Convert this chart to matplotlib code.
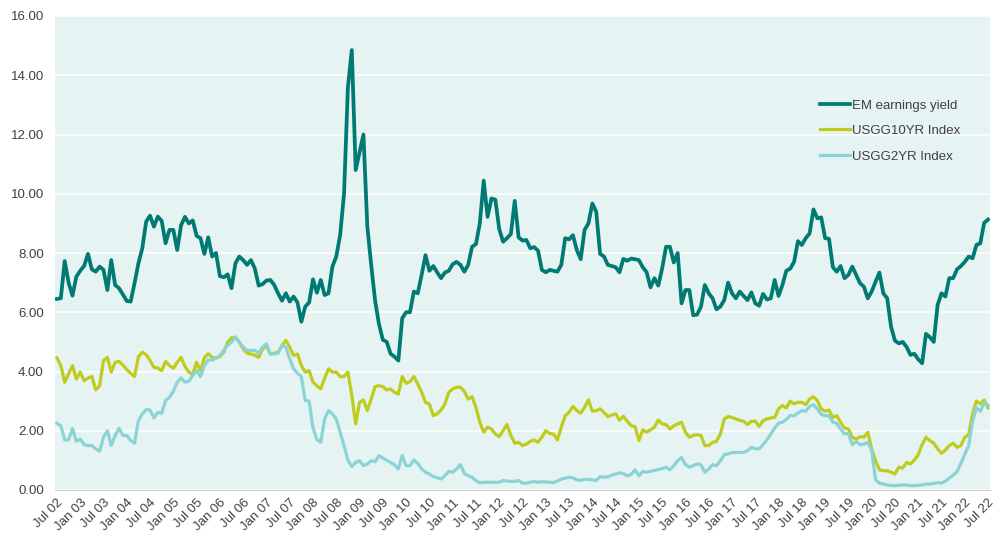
import matplotlib as mpl
mpl.use('Agg')
import matplotlib.pyplot as plt
import numpy as np
import pandas as pd

# monthly data, Jul 2002 - Jul 2022
dates = pd.date_range('2002-07-01', '2022-07-01', freq='MS')

em_yield = [
    6.45, 6.47, 7.73, 7.00, 6.56, 7.20, 7.40, 7.56, 7.97, 7.45, 7.37, 7.54,
    7.43, 6.75, 7.76, 6.92, 6.81, 6.60, 6.38, 6.36, 6.98, 7.65, 8.16, 9.06,
    9.26, 8.89, 9.23, 9.08, 8.33, 8.78, 8.78, 8.10, 8.94, 9.22, 9.00, 9.10,
    8.58, 8.50, 7.97, 8.53, 7.88, 8.00, 7.22, 7.18, 7.28, 6.81, 7.65, 7.88,
    7.76, 7.60, 7.76, 7.48, 6.90, 6.95, 7.07, 7.09, 6.92, 6.64, 6.39, 6.64,
    6.36, 6.53, 6.33, 5.68, 6.19, 6.33, 7.11, 6.66, 7.09, 6.58, 6.64, 7.54,
    7.88, 8.61, 10.00, 13.60, 14.85, 10.80, 11.40, 12.00, 8.90, 7.60, 6.40, 5.60,
    5.07, 5.00, 4.60, 4.50, 4.37, 5.80, 6.00, 6.00, 6.70, 6.64, 7.26, 7.93,
    7.40, 7.56, 7.35, 7.15, 7.34, 7.40, 7.62, 7.70, 7.60, 7.37, 7.60, 8.21,
    8.30, 9.00, 10.44, 9.22, 9.84, 9.80, 8.81, 8.38, 8.50, 8.64, 9.76, 8.53,
    8.42, 8.44, 8.16, 8.20, 8.08, 7.43, 7.35, 7.43, 7.40, 7.37, 7.60, 8.50,
    8.46, 8.60, 8.10, 7.79, 8.78, 9.00, 9.67, 9.39, 7.97, 7.88, 7.60, 7.56,
    7.52, 7.35, 7.80, 7.74, 7.81, 7.79, 7.76, 7.52, 7.35, 6.84, 7.15, 6.90,
    7.48, 8.21, 8.21, 7.68, 8.00, 6.30, 6.75, 6.75, 5.90, 5.92, 6.19, 6.92,
    6.64, 6.47, 6.10, 6.19, 6.41, 7.00, 6.64, 6.47, 6.70, 6.55, 6.41, 6.67,
    6.30, 6.22, 6.62, 6.43, 6.47, 7.09, 6.55, 6.92, 7.40, 7.47, 7.70, 8.40,
    8.27, 8.50, 8.66, 9.47, 9.17, 9.20, 8.50, 8.48, 7.52, 7.37, 7.56, 7.15,
    7.26, 7.54, 7.26, 6.98, 6.86, 6.47, 6.70, 7.03, 7.34, 6.64, 6.47, 5.51,
    5.04, 4.95, 5.00, 4.83, 4.56, 4.60, 4.41, 4.28, 5.27, 5.16, 5.00, 6.25,
    6.64, 6.53, 7.15, 7.15, 7.45, 7.56, 7.70, 7.88, 7.82, 8.27, 8.33, 9.02,
    9.13,
]

usgg10 = [
    4.46, 4.20, 3.64, 3.92, 4.20, 3.75, 3.98, 3.69, 3.78, 3.83, 3.38, 3.52,
    4.37, 4.48, 3.98, 4.31, 4.34, 4.22, 4.07, 3.94, 3.83, 4.50, 4.65, 4.57,
    4.37, 4.14, 4.12, 4.03, 4.34, 4.20, 4.11, 4.31, 4.48, 4.17, 3.98, 3.90,
    4.31, 4.03, 4.46, 4.60, 4.48, 4.45, 4.50, 4.65, 4.99, 5.14, 5.16, 4.99,
    4.76, 4.62, 4.59, 4.55, 4.48, 4.76, 4.88, 4.59, 4.62, 4.65, 4.88, 5.05,
    4.82, 4.54, 4.59, 4.20, 3.98, 4.03, 3.64, 3.52, 3.41, 3.78, 4.09, 3.98,
    3.98, 3.83, 3.83, 3.98, 3.19, 2.23, 2.96, 3.04, 2.68, 3.07, 3.49, 3.52,
    3.49, 3.38, 3.41, 3.30, 3.24, 3.83, 3.60, 3.66, 3.83, 3.58, 3.30, 2.96,
    2.90, 2.51, 2.57, 2.70, 2.90, 3.30, 3.41, 3.47, 3.47, 3.33, 3.07, 3.15,
    2.79, 2.29, 1.95, 2.12, 2.06, 1.89, 1.80, 2.00, 2.21, 1.84, 1.58, 1.61,
    1.50, 1.55, 1.64, 1.69, 1.61, 1.78, 2.00, 1.91, 1.89, 1.69, 2.12, 2.51,
    2.62, 2.82, 2.68, 2.59, 2.79, 3.04, 2.66, 2.68, 2.74, 2.62, 2.48, 2.53,
    2.57, 2.36, 2.49, 2.32, 2.17, 2.14, 1.67, 2.03, 1.95, 2.03, 2.12, 2.36,
    2.23, 2.21, 2.06, 2.17, 2.23, 2.29, 1.95, 1.78, 1.84, 1.87, 1.84, 1.50,
    1.50, 1.61, 1.64, 1.89, 2.40, 2.48, 2.45, 2.40, 2.35, 2.32, 2.21, 2.32,
    2.32, 2.14, 2.34, 2.40, 2.43, 2.45, 2.74, 2.85, 2.77, 3.00, 2.91, 2.96,
    2.96, 2.88, 3.07, 3.15, 3.02, 2.74, 2.66, 2.70, 2.45, 2.51, 2.29, 2.09,
    2.06, 1.78, 1.72, 1.80, 1.78, 1.95, 1.39, 0.99, 0.68, 0.65, 0.65, 0.60,
    0.54, 0.77, 0.74, 0.93, 0.88, 1.01, 1.19, 1.53, 1.78, 1.67, 1.58, 1.39,
    1.24, 1.35, 1.50, 1.58, 1.44, 1.50, 1.78, 1.87, 2.57, 3.00, 2.91, 3.04,
    2.77,
]

usgg2 = [
    2.25, 2.17, 1.69, 1.69, 2.08, 1.64, 1.72, 1.53, 1.50, 1.50, 1.39, 1.31,
    1.78, 2.00, 1.50, 1.84, 2.08, 1.84, 1.84, 1.67, 1.58, 2.34, 2.57, 2.71,
    2.70, 2.43, 2.62, 2.59, 3.02, 3.13, 3.33, 3.64, 3.78, 3.64, 3.67, 3.86,
    4.03, 3.83, 4.20, 4.39, 4.39, 4.45, 4.54, 4.71, 4.88, 4.99, 5.16, 4.99,
    4.82, 4.71, 4.71, 4.71, 4.62, 4.82, 4.93, 4.59, 4.59, 4.62, 4.88, 4.82,
    4.43, 4.09, 3.94, 3.83, 3.02, 3.00, 2.10, 1.70, 1.61, 2.40, 2.68, 2.57,
    2.40, 1.95, 1.50, 1.00, 0.79, 0.93, 0.99, 0.82, 0.88, 0.99, 0.95, 1.16,
    1.08, 1.00, 0.93, 0.85, 0.71, 1.16, 0.82, 0.82, 1.01, 0.90, 0.71, 0.60,
    0.54, 0.45, 0.42, 0.37, 0.48, 0.63, 0.60, 0.71, 0.86, 0.56, 0.48, 0.43,
    0.32, 0.24, 0.26, 0.26, 0.26, 0.26, 0.26, 0.32, 0.30, 0.29, 0.29, 0.32,
    0.23, 0.23, 0.26, 0.29, 0.26, 0.28, 0.27, 0.26, 0.25, 0.30, 0.37, 0.40,
    0.43, 0.41, 0.35, 0.32, 0.36, 0.36, 0.34, 0.32, 0.45, 0.43, 0.44, 0.50,
    0.54, 0.58, 0.55, 0.48, 0.52, 0.68, 0.48, 0.63, 0.60, 0.63, 0.66, 0.69,
    0.72, 0.77, 0.68, 0.82, 0.99, 1.10, 0.86, 0.77, 0.82, 0.88, 0.85, 0.60,
    0.71, 0.86, 0.82, 0.99, 1.19, 1.22, 1.26, 1.27, 1.27, 1.27, 1.33, 1.44,
    1.39, 1.39, 1.53, 1.69, 1.89, 2.09, 2.25, 2.29, 2.38, 2.51, 2.51, 2.60,
    2.68, 2.66, 2.82, 2.88, 2.74, 2.55, 2.51, 2.51, 2.29, 2.25, 2.06, 1.89,
    1.91, 1.53, 1.64, 1.53, 1.55, 1.61, 1.33, 0.35, 0.23, 0.20, 0.17, 0.15,
    0.15, 0.16, 0.17, 0.17, 0.15, 0.15, 0.16, 0.17, 0.20, 0.20, 0.22, 0.25,
    0.23, 0.30, 0.40, 0.50, 0.62, 0.90, 1.20, 1.50, 2.30, 2.79, 2.65, 2.95,
    2.85,
]

x = np.arange(len(dates))
tick_pos = x[::6]
tick_labels = [d.strftime('%b %y') for d in dates[::6]]

plt.rcParams['font.family'] = ['Liberation Sans', 'DejaVu Sans']

fig = plt.figure(figsize=(9.98, 5.36), dpi=100)
ax = fig.add_axes([55/998, 1 - 490/536, 935/998, 474/536])
ax.set_facecolor('#E5F3F2')

ax.plot(x, em_yield, color='#007A73', lw=2.7, label='EM earnings yield', solid_joinstyle='round')
ax.plot(x, usgg10, color='#C0CC1C', lw=2.3, label='USGG10YR Index', solid_joinstyle='round')
ax.plot(x, usgg2, color='#8AD4D6', lw=2.3, label='USGG2YR Index', solid_joinstyle='round')

ax.set_ylim(0, 16)
ax.set_yticks(np.arange(0, 17, 2))
ax.set_yticklabels(['%.2f' % v for v in np.arange(0, 17, 2)])
ax.set_xlim(-0.5, 240.5)
ax.set_xticks(tick_pos)
ax.set_xticklabels(tick_labels, rotation=45, ha='right', rotation_mode='anchor')

ax.grid(axis='y', color='white', lw=1.2)
ax.set_axisbelow(True)
for s in ['top', 'right', 'left']:
    ax.spines[s].set_visible(False)
ax.spines['bottom'].set_color('#D0D0D0')
ax.tick_params(axis='both', length=0, labelsize=9.5, colors='#404040')
ax.tick_params(axis='y', pad=8)
ax.tick_params(axis='x', pad=5)

leg = ax.legend(loc='upper left', bbox_to_anchor=(0.806, 0.849), frameon=False,
                fontsize=9.5, handlelength=2.2, handletextpad=0.2, labelspacing=1.0)
for t in leg.get_texts():
    t.set_color('#404040')

fig.savefig('out.png', dpi=100)
